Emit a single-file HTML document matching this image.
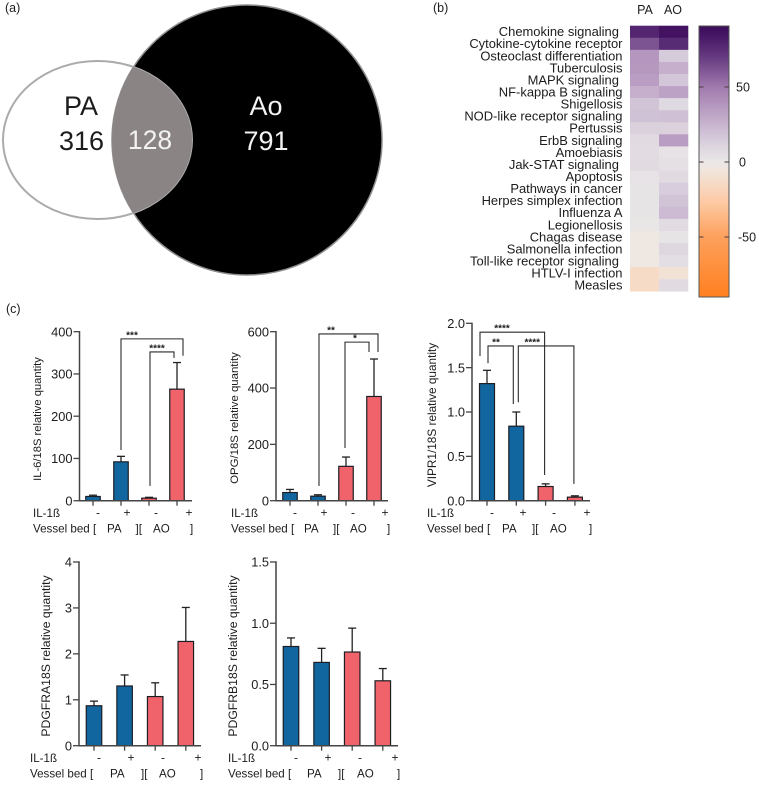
<!DOCTYPE html>
<html>
<head>
<meta charset="utf-8">
<title>Vessel bed gene expression figure</title>
<style>
html,body{margin:0;padding:0;background:#fff;width:759px;height:785px;overflow:hidden}
svg{display:block}
text{font-family:"Liberation Sans",sans-serif;fill:#1c1c1c}
</style>
</head>
<body>
<svg id="fig" xmlns="http://www.w3.org/2000/svg" width="759" height="785" viewBox="0 0 759 785">
  <defs>
    <clipPath id="pa-clip"><ellipse cx="97.5" cy="140" rx="94.5" ry="79"/></clipPath>
    <linearGradient id="cbar-grad" x1="0" y1="0" x2="0" y2="1"></linearGradient>
  </defs>
  <rect width="759" height="785" fill="#fff"/>

  <text x="5" y="12" font-size="12.5">(a)</text>
  <text x="433" y="12" font-size="12.5">(b)</text>
  <text x="6" y="313" font-size="12.5">(c)</text>

  <g>
    <circle cx="247" cy="140" r="135" fill="#000" stroke="#8d8d8d" stroke-width="1.5"/>
    <ellipse cx="97.5" cy="140" rx="94.5" ry="79" fill="none" stroke="#ababab" stroke-width="2"/>
    <circle cx="247" cy="140" r="135" fill="#8b8485" clip-path="url(#pa-clip)"/>
    <text x="81" y="115" font-size="27" text-anchor="middle">PA</text>
    <text x="81.5" y="150" font-size="27" text-anchor="middle">316</text>
    <text x="150" y="149" font-size="26.5" text-anchor="middle" style="fill:#f2f2f2">128</text>
    <text x="266" y="115" font-size="27" text-anchor="middle" style="fill:#f2f2f2">Ao</text>
    <text x="266" y="150" font-size="27" text-anchor="middle" style="fill:#f2f2f2">791</text>
  </g>

  <g id="heatmap"></g>
  <g id="bars"></g>
</svg>

<script>
/* ---------- Heatmap data ---------- */
var pathways = ["Chemokine signaling ","Cytokine-cytokine receptor","Osteoclast differentiation","Tuberculosis","MAPK signaling ","NF-kappa B signaling","Shigellosis","NOD-like receptor signaling","Pertussis","ErbB signaling","Amoebiasis","Jak-STAT signaling ","Apoptosis","Pathways in cancer","Herpes simplex infection","Influenza A","Legionellosis","Chagas disease","Salmonella infection","Toll-like receptor signaling ","HTLV-I infection","Measles"];
var heatColumns = ["PA","AO"];
var paValues = [78,62,38,37,35,27,18,19,12,7,6,7,3,2,2,2,1,-3,-3,-3,-14,-14];
var aoValues = [86,76,15,27,17,33,8,20,12,35,3,4,7,14,18,22,6,2,9,5,-8,7];
var colorbarTicks = [50,0,-50];

/* ---------- Bar chart data ---------- */
var signLabels = ["-","+","-","+"];
var il6Means = [10,92,6,264];
var il6Upper = [13,105,8,327];
var il6Ticks = ["0","100","200","300","400"];
var opgMeans = [29,16,122,370];
var opgUpper = [40,21,155,503];
var opgTicks = ["0","200","400","600"];
var viprMeans = [1.32,0.84,0.16,0.04];
var viprUpper = [1.47,1.0,0.19,0.055];
var viprTicks = ["0.0","0.5","1.0","1.5","2.0"];
var pdgfraMeans = [0.87,1.3,1.07,2.27];
var pdgfraUpper = [0.97,1.54,1.37,3.01];
var pdgfraTicks = ["0","1","2","3","4"];
var pdgfrbMeans = [0.81,0.68,0.765,0.53];
var pdgfrbUpper = [0.88,0.795,0.96,0.63];
var pdgfrbTicks = ["0.0","0.5","1.0","1.5"];

var NS = "http://www.w3.org/2000/svg";
function mk(parent, tag, attrs, txt) {
  var el = document.createElementNS(NS, tag);
  for (var k in attrs) el.setAttribute(k, attrs[k]);
  if (txt !== undefined) el.textContent = txt;
  parent.appendChild(el);
  return el;
}

/* ---------- Colour scale ---------- */
var scaleStops = [
  [-91,[255,127,30]],[-50,[253,160,92]],[-25,[253,205,170]],[-5,[240,230,222]],
  [0,[234,232,231]],[15,[214,203,219]],[35,[185,157,194]],[50,[160,122,173]],
  [70,[102,58,128]],[85,[68,20,100]],[91,[60,14,88]]
];
function heatColor(v) {
  for (var i = 1; i < scaleStops.length; i++) {
    if (v <= scaleStops[i][0]) {
      var a = scaleStops[i-1], b = scaleStops[i], t = (v-a[0])/(b[0]-a[0]);
      t = Math.max(0, t);
      return "rgb(" + [0,1,2].map(function(c){return Math.round(a[1][c]+(b[1][c]-a[1][c])*t);}).join(",") + ")";
    }
  }
  return "rgb(60,14,88)";
}

/* ---------- Heatmap drawing ---------- */
(function () {
  var g = document.getElementById("heatmap");
  var left = 630, colW = 29, top = 25.7, rowH = 12.07;
  var matrix = [paValues, aoValues];
  heatColumns.forEach(function (name, c) {
    var h = mk(g, "text", {x: left + colW*c + colW/2 + (c ? -0.5 : 0.5), y: 14, "font-size": 12.5, "text-anchor": "middle"}, name);
    
    
    matrix[c].forEach(function (v, r) {
      var cell = mk(g, "rect", {x: left + colW*c, y: top + rowH*r, width: colW + 0.3, height: rowH + 0.3, fill: heatColor(v)});
      
      
    });
  });
  pathways.forEach(function (name, r) {
    var t = mk(g, "text", {x: 622.5, y: top + rowH*r + rowH/2 + 4.4, "font-size": 12.95, "text-anchor": "end", style: "white-space:pre"}, name);
    
    
  });

  /* colour bar */
  var barX = 699, barW = 30, barTop = 26, barBottom = 297, y0 = 162, pxPerUnit = 1.5;
  var grad = document.getElementById("cbar-grad");
  for (var i = 0; i <= 40; i++) {
    var f = i/40, val = (y0 - (barTop + f*(barBottom-barTop)))/pxPerUnit;
    mk(grad, "stop", {offset: f, "stop-color": heatColor(val)});
  }
  var bar = mk(g, "rect", {x: barX, y: barTop, width: barW, height: barBottom-barTop, fill: "url(#cbar-grad)", stroke: "#555", "stroke-width": 1});
  
  
  colorbarTicks.forEach(function (v) {
    var y = y0 - v*pxPerUnit;
    var t1 = mk(g, "line", {x1: barX, x2: barX+4.5, y1: y, y2: y, stroke: "#4a3a40", "stroke-width": 1});
    
    
    var t2 = mk(g, "line", {x1: barX+barW-4.5, x2: barX+barW, y1: y, y2: y, stroke: "#4a3a40", "stroke-width": 1});
    
    
    var lbl = mk(g, "text", {x: v === 0 ? 739 : (v > 0 ? 736 : 738), y: y + 4.5, "font-size": 12.5}, String(v));
    
    
  });
})();

/* ---------- Bar charts ---------- */
function drawChart(o) {
  var root = document.getElementById("bars");
  var g = mk(root, "g", {});
  
  
  var axisColor = "#444", ink = "#222";
  var maxV = parseFloat(o.ticks[o.ticks.length-1]);
  function y(v) { return o.y0 - (v/maxV)*(o.y0 - o.yTop); }
  function bx(i) { return o.first + o.step*i; }

  var title = mk(g, "text", {transform: "translate(" + o.titleX + "," + o.titleY + ") rotate(-90)", "font-size": o.titleSize, "text-anchor": "middle"}, o.title);
  
  

  o.means.forEach(function (m, i) {
    var c = bx(i);
    var col = i < 2 ? "#12669f" : "#f0636a";
    var ew = mk(g, "line", {x1: c, x2: c, y1: y(m), y2: y(o.upper[i]), stroke: ink, "stroke-width": 1.3});
    
    
    var cap = mk(g, "line", {x1: c-4, x2: c+4, y1: y(o.upper[i]), y2: y(o.upper[i]), stroke: ink, "stroke-width": 1.3});
    
    
    var r = mk(g, "rect", {x: c - o.barW/2, y: y(m), width: o.barW, height: o.y0 - y(m), fill: col, stroke: "#1d1d24", "stroke-width": 1.2});
    
    
    var tk = mk(g, "line", {x1: c, x2: c, y1: o.y0, y2: o.y0 + 5, stroke: axisColor, "stroke-width": 1.3});
    
    
  });

  var ax = mk(g, "line", {x1: o.axisX, x2: o.axisX, y1: o.yTop - 0.7, y2: o.y0 + 0.7, stroke: axisColor, "stroke-width": 1.5});
  
  
  var xa = mk(g, "line", {x1: o.axisX, x2: o.xEnd, y1: o.y0, y2: o.y0, stroke: axisColor, "stroke-width": 1.5});
  
  

  o.ticks.forEach(function (lab) {
    var yy = y(parseFloat(lab));
    var t = mk(g, "line", {x1: o.axisX - 6, x2: o.axisX, y1: yy, y2: yy, stroke: axisColor, "stroke-width": 1.3});
    
    
    var l = mk(g, "text", {x: o.axisX - 7, y: yy + 4.6, "font-size": 12.8, "text-anchor": "end"}, lab);
    
    
  });

  var row1 = o.y0 + 16.5, row2 = o.y0 + 32;
  var il = mk(g, "text", {x: o.labelX, y: row1, "font-size": 11.6}, "IL-1ß");
  
  
  signLabels.forEach(function (s, i) {
    var sl = mk(g, "text", {x: o.signX[i], y: row1 - 0.5, "font-size": 12, "text-anchor": "middle"}, s);
    
    
  });
  [["Vessel bed [", o.labelX], ["PA", o.paX], ["][", o.sepX], ["AO", o.aoX], ["]", o.endX]].forEach(function (p) {
    var vl = mk(g, "text", {x: p[1], y: row2, "font-size": 11.6}, p[0]);
    
    
  });

  (o.brackets || []).forEach(function (b) {
    var x1 = bx(b.a) + b.aOff, x2 = bx(b.b) + b.bOff;
    var p = mk(g, "path", {d: "M" + x1 + " " + y(b.from) + "V" + y(b.top) + "H" + x2 + "V" + y(b.to), fill: "none", stroke: "#2a2a2a", "stroke-width": 1.1});
    
    
    var st = mk(g, "text", {x: x1 + b.sOff, y: y(b.top) - 0.5, "font-size": 10, "font-weight": "bold", "text-anchor": "middle"}, b.stars);
    
    
  });
}

drawChart({title:"IL-6/18S relative quantity", titleSize:11.2, titleX:41, titleY:419, means:il6Means, upper:il6Upper, ticks:il6Ticks,
  axisX:79.5, xEnd:192, y0:500.7, yTop:331.7, first:93, step:28, barW:14.5,
  labelX:33, signX:[98,127,156,189], paX:107, sepX:135.5, aoX:153, endX:190,
  brackets:[
    {a:1,aOff:0,b:3,bOff:6,from:120,top:383,to:343,stars:"***",sOff:11},
    {a:2,aOff:1,b:3,bOff:-3,from:35,top:352,to:338,stars:"****",sOff:7}
  ]});
drawChart({title:"OPG/18S relative quantity", titleSize:11.4, titleX:238, titleY:418, means:opgMeans, upper:opgUpper, ticks:opgTicks,
  axisX:276, xEnd:388, y0:500.7, yTop:331.7, first:290, step:28, barW:14.5,
  labelX:231, signX:[295,324,353,385], paX:304, sepX:333, aoX:350, endX:387,
  brackets:[
    {a:1,aOff:1,b:3,bOff:4,from:52,top:592,to:528,stars:"**",sOff:12},
    {a:2,aOff:-1,b:3,bOff:-5,from:187,top:563,to:528,stars:"*",sOff:10}
  ]});
drawChart({title:"VIPR1/18S relative quantity", titleSize:11.8, titleX:436, titleY:415, means:viprMeans, upper:viprUpper, ticks:viprTicks,
  axisX:472, xEnd:590, y0:500.7, yTop:323.3, first:487, step:29.3, barW:15,
  labelX:427, signX:[492,523,554,587], paX:502, sepX:532, aoX:550, endX:589,
  brackets:[
    {a:0,aOff:-7,b:2,bOff:-1,from:1.63,top:1.9,to:0.29,stars:"****",sOff:22},
    {a:0,aOff:1,b:1,bOff:-3,from:1.55,top:1.745,to:1.09,stars:"**",sOff:8},
    {a:1,aOff:2,b:3,bOff:-1,from:1.11,top:1.745,to:0.19,stars:"****",sOff:14}
  ]});
drawChart({title:"PDGFRA18S relative quantity", titleSize:12.2, titleX:50, titleY:656, means:pdgfraMeans, upper:pdgfraUpper, ticks:pdgfraTicks,
  axisX:79, xEnd:201, y0:745.7, yTop:562, first:94, step:30.6, barW:15.5,
  labelX:30, signX:[99,131,163,198], paX:110, sepX:141, aoX:159, endX:200});
drawChart({title:"PDGFRB18S relative quantity", titleSize:12.2, titleX:237, titleY:656, means:pdgfrbMeans, upper:pdgfrbUpper, ticks:pdgfrbTicks,
  axisX:276, xEnd:398, y0:745.7, yTop:562, first:291, step:30.6, barW:15.5,
  labelX:228, signX:[296,328,360,395], paX:307, sepX:338, aoX:357, endX:397});
</script>
</body>
</html>
